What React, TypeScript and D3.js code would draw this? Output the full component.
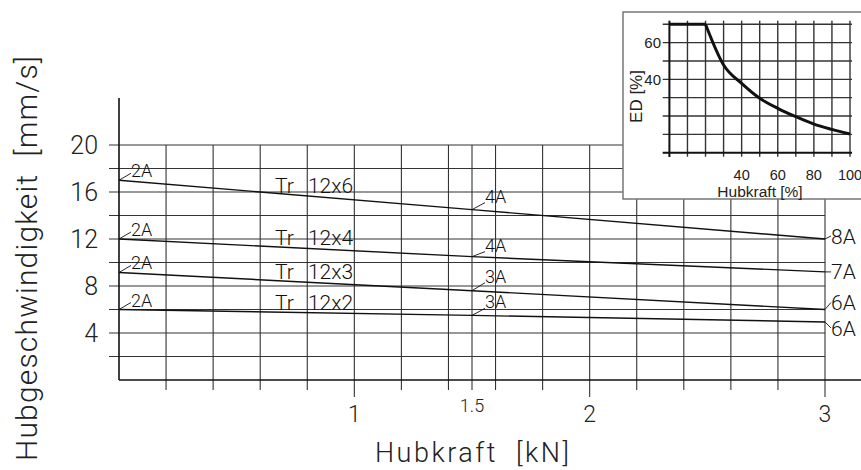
import React from "react";
import * as d3 from "d3";

// ---- Main chart data ----
const forceKN = [0, 1.5, 3];
const seriesNames = ["12x6", "12x4", "12x3", "12x2"];
const tr12x6 = [17, 14.5, 12];
const tr12x4 = [12, 10.5, 9.2];
const tr12x3 = [9.15, 7.6, 6.0];
const tr12x2 = [6, 5.5, 4.94];
const startCurrent = ["2A", "2A", "2A", "2A"];
const midCurrent = ["4A", "4A", "3A", "3A"];
const endCurrent = ["8A", "7A", "6A", "6A"];
const yTickLabels = [4, 8, 12, 16, 20];
const xTickLabels = [1, 1.5, 2, 3];

// ---- Inset data ----
const edForce = [0, 20, 30, 40, 50, 60, 70, 80, 90, 100];
const edValue = [70, 70, 47.8, 37.8, 29.7, 24.2, 19.6, 15.6, 12.7, 10.2];
const insetXTicks = [40, 60, 80, 100];
const insetYTicks = [40, 60];

const seriesValues = [tr12x6, tr12x4, tr12x3, tr12x2];

// layout (not data)
const endLeader = [-3, 0, -7, 6];
const midDy = [-7, -5, -8, -7];

const CAD = "Roboto, 'DejaVu Sans', sans-serif";
const ARIAL = "'Liberation Sans', Arial, sans-serif";

export default function App() {
  const W = 861, H = 470;
  const x = d3.scaleLinear().domain([0, 3]).range([119, 825]);
  const y = d3.scaleLinear().domain([0, 20]).range([380, 145]);

  const vGrid = d3.range(1, 16).map((i) => i * 0.2).concat([1.5]);
  const hGrid = d3.range(1, 11).map((i) => i * 2);

  const line = d3
    .line<number>()
    .x((_, i) => x(forceKN[i]))
    .y((d) => y(d));

  // inset scales
  const ix = d3.scaleLinear().domain([0, 100]).range([669.4, 850]);
  const iy = d3.scaleLinear().domain([0, 70]).range([152.7, 24.3]);
  const iVGrid = d3.range(1, 11).map((i) => i * 10);
  const iHGrid = d3.range(1, 8).map((i) => i * 10);
  const flatPts = edForce.map((f, i) => [f, edValue[i]] as [number, number]).filter((p) => p[0] <= 20);
  const curvePts = edForce.map((f, i) => [f, edValue[i]] as [number, number]).filter((p) => p[0] >= 20);
  const iLine = d3.line<[number, number]>().x((d) => ix(d[0])).y((d) => iy(d[1]));
  const iCurve = d3
    .line<[number, number]>()
    .x((d) => ix(d[0]))
    .y((d) => iy(d[1]))
    .curve(d3.curveMonotoneX);

  return (
    <svg
      width={W}
      height={H}
      style={{ position: "absolute", left: 0, top: 0, background: "#fff" }}
    >
      <rect x={0} y={0} width={W} height={H} fill="#fff" />
      {/* horizontal grid */}
      {hGrid.map((v) => (
        <line key={"h" + v} x1={109} x2={x(3)} y1={y(v)} y2={y(v)} stroke="#333" strokeWidth={1.1} />
      ))}
      {/* vertical grid */}
      {vGrid.map((v) => {
        const major = Math.abs(v - Math.round(v)) < 1e-6;
        return (
          <line
            key={"v" + v}
            x1={x(v)}
            x2={x(v)}
            y1={y(20)}
            y2={380 + (major ? 17 : 10)}
            stroke="#333"
            strokeWidth={1.1}
          />
        );
      })}
      {/* axes */}
      <line x1={x(0)} x2={x(0)} y1={y(24)} y2={380} stroke="#111" strokeWidth={1.6} />
      <line x1={x(0)} x2={W} y1={380} y2={380} stroke="#111" strokeWidth={1.6} />

      {/* y ticks */}
      {yTickLabels.map((v) => (
        <text key={"yt" + v} x={98} y={y(v)} dy="0.36em" textAnchor="end" fontFamily={CAD} fontWeight={300} fontSize={25} fill="#222">
          {v}
        </text>
      ))}
      {/* x ticks */}
      {xTickLabels.map((v) => (
        <text
          key={"xt" + v}
          x={x(v)}
          y={v === 1.5 ? 412 : 422}
          textAnchor="middle"
          fontFamily={CAD}
          fontWeight={300}
          fontSize={v === 1.5 ? 18 : 23}
          fill="#222"
        >
          {v}
        </text>
      ))}

      {/* titles */}
      <text
        transform={`translate(37,258.5) rotate(-90)`}
        textAnchor="middle"
        fontFamily={CAD}
        fontWeight={300}
        fontSize={30}
        textLength={405}
        lengthAdjust="spacing"
        fill="#222"
        style={{ whiteSpace: "pre" }}
      >
        {"Hubgeschwindigkeit  [mm/s]"}
      </text>
      <text
        x={472}
        y={462}
        textAnchor="middle"
        fontFamily={CAD}
        fontWeight={300}
        fontSize={27}
        textLength={194}
        lengthAdjust="spacing"
        fill="#222"
        style={{ whiteSpace: "pre" }}
      >
        {"Hubkraft  [kN]"}
      </text>

      {/* series */}
      {seriesValues.map((vals, si) => {
        const interp = d3.scaleLinear().domain(forceKN).range(vals);
        const y0 = y(vals[0]);
        const xm = x(forceKN[1]);
        const ym = y(vals[1]);
        const xe = x(forceKN[2]);
        const ye = y(vals[2]);
        const yl = y(interp(0.8)) - 3;
        return (
          <g key={"s" + si}>
            <path d={line(vals) || ""} fill="none" stroke="#111" strokeWidth={1.4} />
            {/* start label */}
            <line x1={x(0)} x2={x(0) + 12} y1={y0} y2={y0 - 7} stroke="#111" strokeWidth={0.9} />
            <text x={x(0) + 12} y={y0 - 3} fontFamily={CAD} fontWeight={300} fontSize={18} fill="#111">
              {startCurrent[si]}
            </text>
            {/* mid label */}
            <line x1={xm} x2={xm + 13} y1={ym} y2={ym + midDy[si]} stroke="#111" strokeWidth={0.9} />
            <text x={xm + 13} y={ym + midDy[si]} fontFamily={CAD} fontWeight={300} fontSize={18} fill="#111">
              {midCurrent[si]}
            </text>
            {/* end label */}
            <line x1={xe} x2={xe + 6} y1={ye} y2={ye + endLeader[si]} stroke="#111" strokeWidth={0.9} />
            <text x={xe + 6} y={ye + endLeader[si]} dy="0.36em" fontFamily={CAD} fontWeight={300} fontSize={21} fill="#111">
              {endCurrent[si]}
            </text>
            {/* series name */}
            <text x={x(0.663)} y={yl} fontFamily={CAD} fontWeight={300} fontSize={21} fill="#111">
              Tr
            </text>
            <text x={x(0.803)} y={yl} fontFamily={CAD} fontWeight={300} fontSize={21} fill="#111">
              {seriesNames[si]}
            </text>
          </g>
        );
      })}

      {/* inset */}
      <g>
        <rect x={623} y={12} width={260} height={187} fill="#fff" stroke="#777" strokeWidth={1.5} />
        {iHGrid.map((v) => (
          <line key={"ih" + v} x1={662.7} x2={852} y1={iy(v)} y2={iy(v)} stroke="#333" strokeWidth={1.4} />
        ))}
        {iVGrid.map((v) => (
          <line key={"iv" + v} x1={ix(v)} x2={ix(v)} y1={20.7} y2={156.7} stroke="#333" strokeWidth={1.4} />
        ))}
        <line x1={ix(0)} x2={ix(0)} y1={20.7} y2={157} stroke="#111" strokeWidth={2} />
        <line x1={662.7} x2={852} y1={iy(0)} y2={iy(0)} stroke="#111" strokeWidth={2} />
        <path d={iLine(flatPts) || ""} fill="none" stroke="#111" strokeWidth={3} />
        <path d={iCurve(curvePts) || ""} fill="none" stroke="#111" strokeWidth={3} />
        {insetYTicks.map((v) => (
          <text key={"iyt" + v} x={661} y={iy(v)} dy="0.36em" textAnchor="end" fontFamily={ARIAL} fontSize={15} fill="#222">
            {v}
          </text>
        ))}
        {insetXTicks.map((v) => (
          <text key={"ixt" + v} x={ix(v)} y={179.5} textAnchor="middle" fontFamily={ARIAL} fontSize={14.5} fill="#222">
            {v}
          </text>
        ))}
        <text x={760} y={196.5} textAnchor="middle" fontFamily={ARIAL} fontSize={15.5} fill="#222">
          Hubkraft [%]
        </text>
        <text transform="translate(642,96.5) rotate(-90)" textAnchor="middle" fontFamily={ARIAL} fontSize={17} fill="#222">
          ED [%]
        </text>
      </g>
    </svg>
  );
}
